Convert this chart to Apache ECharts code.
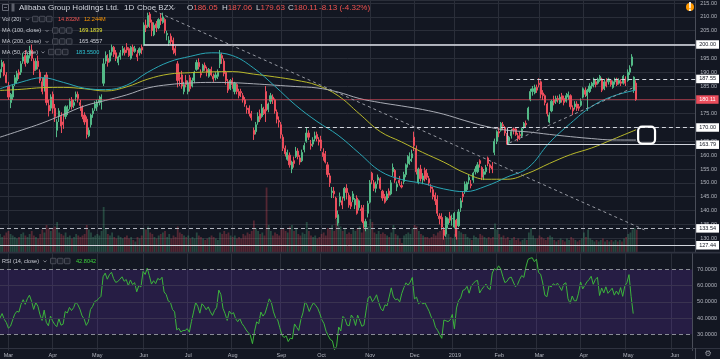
<!DOCTYPE html>
<html>
<head>
<meta charset="utf-8">
<script src="https://cdn.jsdelivr.net/npm/echarts@6.0.0/dist/echarts.min.js"></script>
<style>
html,body{margin:0;padding:0;background:#131722;overflow:hidden;}
#chart{width:720px;height:359px;}
</style>
</head>
<body>
<div id="chart"></div>
<script>
// ================= DATA =================
// closes before the visible range (only used to warm up RSI 14)
const warmupCloses = [204.3, 199.5, 191, 183, 185.5, 181, 171.5, 174.5, 177, 180.5, 184.5, 186.5, 184, 187.5, 189, 188];

// daily candles [open, close, low, high]
const feb18 = [[188,191,187,192],[192,193.5,190,194.5],[193,189,188.5,194],[189,186.2,186,190]];
const mar18 = [[185,181,180,186.5],[179,182,177,182.5],[181,185,180,185.5],[186,188,185,189],[187,189.5,186,190.5],[190,189,187.5,191],[190,193,189,194],[194,195.5,193,197],[196,193,192,198],[193.5,196,193,197],[196,198,195,199.5],[198,195,194,200],[194,190.5,189,195],[191,194,190.5,195],[194,192,191,196],[190,187,186,191],[186.5,183,182,188],[185,188,183,189],[189,179,178,190],[178,176,174,180],[177,181,176,182]];
const apr18 = [[182,177,175,183],[177,174,172,178.5],[169,172,166.5,173],[174,176,172,177],[174,170.5,168,175.5],[172,171,169.5,175],[174,177.5,173,178],[176,176.5,174.5,178],[177.5,179.5,176.5,180.5],[180,177.5,176.5,181],[178,179,177,180],[181,182,179.5,183],[182,180.5,179,183],[179,178,176,180],[177.5,174,173,178],[174.5,172,171,175.5],[173,167.5,166,174],[167,169,166.5,170],[171,174.5,170,175],[175,176,173.5,177],[177,178.5,176,179.5]];
const may18 = [[177.5,179,176,180],[179,180,178,181.5],[179,181,176.5,182],[186,193,185,195],[194,196,193,197.5],[195,193.5,192,196.5],[194,197,193.5,198],[197.5,199,196,200],[199,196.5,195.5,199.5],[197,195,194,198],[193.5,195.5,192.5,196],[195.5,197,194.5,198],[197,198.5,196,199.5],[198,197,196,199],[199,198,197,200.5],[198.5,196,195.5,199],[195,199,194.5,199.5],[199,197.5,196,200],[197.5,198.5,197,199.5],[196.5,195.5,194,198],[197,198.5,196,199],[199,198,196.5,200]];
const jun18 = [[200,207,199.5,208],[207,206,204.5,209],[206.5,210.5,206,211.5],[211,208,206,211.7],[208,205,203,209],[203.5,207,203,208],[207.5,206,204.5,208.5],[206,209,205.5,209.5],[209.5,208.5,207,211],[208,210,207.5,211.5],[209,205,204,209.5],[203.5,204,201.5,205],[200.5,201.5,199.5,203],[203,201,200,204],[201.5,198,196.5,202.5],[198.5,197,196,199.5],[193,187,184.5,194],[188,187.5,185,190],[189,185,184,190.5],[183,185.5,182,186.5],[187,185.5,184.5,189]];
const jul18 = [[183,186,182,187],[188,184,183,189],[185,187,184.5,188],[187,190,186,190.5],[191,193.5,190.5,194.5],[193.5,192,191,195],[189.5,189,188,191],[190.5,192.5,190,193],[192.5,191.5,190.5,193.5],[191,190,188.5,192],[188.5,191,188,191.5],[191,189,188.5,192],[188.5,187.5,186.5,189.5],[188,189,187,190],[188.5,190,187.5,191],[193,196.5,191.5,198],[196,195,193,197],[194,189.5,188.5,195],[190,187,185.5,190.5],[186.5,183.5,182.5,187.5],[184,187,183.5,187.5]];
const aug18 = [[187,185.5,184,188],[183,186,182,186.5],[185.5,183,182,186],[183,181.5,180.5,184],[183,182.5,181,184],[181.5,180,179,182.5],[180,178.5,177.5,181],[177,176.5,175,178],[177,175,174,178],[175,173.5,172.5,176],[169,167.5,165.5,170],[168.5,171,167.5,172],[172,174,171,175.5],[175,173,172,176.5],[174,177,173.5,178.5],[176.5,175,174.5,177.5],[183,176,172,185],[176.5,178.5,175.5,179],[179.5,181.5,178.5,182.5],[181,180,178.5,182],[180,176,175,180.5],[175.5,173,171.5,176.5],[172.5,172,170,174]];
const sep18 = [[171,167.5,166,172],[166.5,162.5,161.5,167.5],[162.5,160.5,159.5,163.5],[158.5,161,158,162],[160,156.5,155.5,161],[155,157.5,153.5,158],[158,157,155.5,159.5],[159.5,161.5,159,163],[161.5,159.5,158.5,162.5],[159,157.5,156.5,160],[158,161,157.5,162],[162,163.5,161,164.5],[165,168,164.5,170],[168,166.5,165.5,169],[164,163.5,162,165.5],[164,165.5,163,166.5],[166,167,165,168.5],[167.5,166,165,168.5],[165.5,164.8,163.5,166.5]];
const oct18 = [[165.5,162.5,161.5,167],[161,159.5,158,162.5],[160.5,157.5,157,161.5],[156.5,153,152,157.5],[152.5,150,148.5,153.5],[146.5,147,144.5,148.5],[147,146,144.5,148.5],[144.5,137.5,137,145],[135.5,138.5,134.5,140],[143,145,141.5,146.5],[143.5,142,140.5,145],[144.5,148,143.5,148.5],[148,146.5,144,149.5],[145.5,142,141,146.5],[143,141.5,140.5,145],[144,146,143,147],[142,144,140.5,144.5],[144.5,139,138.5,145.5],[141,143.5,140,144],[140.5,140,136,142],[141,135.5,133.5,142],[134,136,132.5,137],[139,142.5,137.5,143.5]];
const nov18 = [[143,150,142.5,151],[153.5,151,149.5,154],[150,148,147,151],[148,149.5,146.5,150.5],[151,152,149.5,153],[151.5,148,147.5,152],[147,144.5,143.5,147.5],[145,143,142.5,146],[144,146,143.5,147],[147,145.5,144.5,148],[146,150,145.5,151],[154,155.5,152.5,157],[154.5,151,150,155],[148.5,149.5,147,150.5],[151,150,149,152.5],[149,148.5,148,150.5],[150.5,153,149.5,154],[153,156.5,152,157],[157,159.5,155.5,160],[158,158.5,156.5,161],[159,160.5,157.5,162]];
const dec18 = [[166.5,163.5,161.5,168.5],[162.5,154,153,163.5],[150,155,149.5,155.5],[155,151.5,150.5,156.5],[151,152.5,149.5,153.5],[154.5,151.5,150.5,155.5],[153.5,152,151,155],[151.5,150,149,152.5],[148.5,148,146.5,149.5],[147.5,145,144,148.5],[145.5,143.5,142,146.5],[144,139,138,145.5],[138,137,135,139],[137.5,134,133,139],[133,131,129.5,134],[131.5,137.5,130.5,138],[135,137,133.5,137.5],[138,136.5,135.5,139.5],[137,137.1,134.5,138.5]];
const jan19 = [[134,139,133.5,139.5],[136.5,130.6,129.5,137],[134.5,139.5,134,140.5],[141,143.5,139.5,144.5],[146,145,143,147],[147,149.5,146,150.5],[147.5,150,147,150.5],[151,152,149.5,153],[149.5,149,148,151],[151,153.5,150,154],[154,155,153,156],[154,156.5,153.5,157.5],[158,157,155.5,158.5],[155.5,152,151,156],[153,154,151,155],[154,155.5,153,156.5],[159,157,156,159.5],[156.5,155.5,153.5,157],[156,155,153.5,157.5],[161,165,160,166],[165,168.5,164,169]];
const feb19 = [[168.5,168,166.5,170],[169,171.5,168.5,172],[171,170.5,169,172],[170,168,167,170.5],[167.5,165.8,163.8,168],[165,166.5,164,167],[167,168.5,166,169.5],[169.5,169,167.5,170],[169.5,167.5,167,170],[167,166,165,168],[167.5,167,165.5,168.5],[167,169.5,166.5,170],[170,171.5,169.5,172],[171.5,171,170,172.5],[173,177,172.5,177.5],[180,183,179.5,184],[183,184,181.5,185],[182.5,184.5,182,185.5],[184.5,183.5,182.5,185.5]];
const mar19 = [[186,185.5,184.5,187.8],[186.5,182,180.5,187],[182.5,181.5,180,183.5],[181.5,179,178,182],[178.5,175,174,179],[172,174.5,171.5,175.5],[176,179.5,175.5,180],[180,179,178,181.5],[179.5,180.5,178.5,181.5],[180.5,180,179,181.5],[179,181,178.5,182],[181.5,180,179,182.5],[180.5,179,178,181.5],[179.5,181.5,179,182.5],[181,182,180,183],[181.5,177.5,176.5,182],[177,176,174.5,178],[177.5,178.5,176.5,179.5],[178.5,177,176,179.5],[177.5,177,176,178.5],[178,179.5,177.5,180.5]];
const apr19 = [[181,184,180.5,184.5],[183.5,182,181,184.5],[181.5,183.5,176,184],[183,185,182.5,186],[185,186,184,186.5],[185.5,187.5,184.5,188],[186.5,185.5,184.5,187.5],[186,187.5,185.5,188],[187,188.5,186.5,189],[187.5,183.5,182.8,188],[184,186.5,183.5,187.5],[186.5,185,184.5,187.8],[186.5,187.5,185.5,188],[187,185.5,184.8,187.5],[184.5,186.5,184,187],[186.5,187.5,185.5,188],[187.5,185.5,185,188],[186,187,185.5,187.8],[186.5,186,185,187.5],[186,188.5,185.5,189],[187.5,186,185,188.5]];
const may19 = [[187,190,186.5,191],[190,191.5,189,192.5],[192.5,195.5,192,196.5],[183.5,188.24,182.5,188.5],[186.05,180.11,179.63,187.06]];

// daily volume, millions
const volFeb18 = [12,10,11,13];
const volMar18 = [14,12,11,10,9,10,12,13,11,10,12,14,11,10,9,12,15,13,18,16,14];
const volApr18 = [16,17,20,13,12,11,13,10,11,9,10,12,11,10,11,12,18,15,13,10,11];
const volMay18 = [12,11,14,30,16,12,11,13,10,9,11,10,9,10,11,9,10,8,7,10,9,11];
const volJun18 = [16,15,17,13,12,10,9,11,12,13,14,10,12,9,11,10,17,13,12,11,10];
const volJul18 = [11,9,10,9,13,11,10,9,8,9,10,11,10,9,8,13,12,14,12,13,11];
const volAug18 = [10,11,9,10,9,12,11,13,12,14,21,16,14,12,13,11,43,18,14,11,13,12,11];
const volSep18 = [15,16,14,13,17,18,14,16,12,11,13,12,20,14,11,10,11,9,10];
const volOct18 = [12,13,11,16,15,18,14,22,24,17,14,16,12,13,12,15,14,16,17,13,18,19,17];
const volNov18 = [22,20,13,12,14,12,13,12,11,10,13,18,12,11,9,6,11,12,13,12,16];
const volDec18 = [18,17,14,12,11,10,10,9,10,12,11,13,14,15,9,14,12,10,9];
const volJan19 = [12,16,14,13,12,12,10,9,8,11,10,9,12,11,10,9,10,9,10,19,15];
const volFeb19 = [12,10,11,9,10,8,9,10,8,9,7,8,9,8,13,16,11,9,9];
const volMar19 = [11,10,9,8,10,11,10,8,7,8,9,8,7,9,8,10,9,8,7,8,9];
const volApr19 = [13,10,15,9,8,7,8,7,8,9,7,8,7,8,7,8,7,8,7,9,10];
const volMay19 = [12,13,15,16,14.832];

// moving averages (date, value)
const ma50Pts = [['2018-02-23',184],['2018-03-09',186.4],['2018-03-23',188],['2018-04-09',186.3],['2018-04-23',184.2],['2018-05-07',183.7],['2018-05-21',185.3],['2018-06-05',190],['2018-06-19',193.7],['2018-07-03',195.7],['2018-07-18',197],['2018-08-01',196],['2018-08-15',191.5],['2018-08-29',185],['2018-09-13',178],['2018-09-27',172.2],['2018-10-11',167.2],['2018-10-25',160.7],['2018-11-08',154.2],['2018-11-23',151.2],['2018-12-10',149.8],['2018-12-24',147.8],['2019-01-09',146.8],['2019-01-24',148.8],['2019-02-07',152.1],['2019-02-22',155.5],['2019-03-08',164.5],['2019-03-22',171.5],['2019-04-05',177.6],['2019-04-22',181.3],['2019-05-07',183.55]];
const ma100Pts = [['2018-02-23',183.4],['2018-03-09',183.8],['2018-03-23',184.4],['2018-04-09',184.5],['2018-04-23',184],['2018-05-07',183.2],['2018-05-21',184.7],['2018-06-05',187.5],['2018-06-19',189.3],['2018-07-03',189.8],['2018-07-18',190.1],['2018-08-01',190.2],['2018-08-15',189.3],['2018-08-29',188.3],['2018-09-13',187.1],['2018-09-27',185.3],['2018-10-11',181.5],['2018-10-25',175],['2018-11-08',168.5],['2018-11-23',164.8],['2018-12-10',161],['2018-12-24',157.5],['2019-01-09',153.6],['2019-01-24',151.3],['2019-02-07',151.3],['2019-02-22',153.5],['2019-03-08',157],['2019-03-22',160.2],['2019-04-05',162.6],['2019-04-22',165.7],['2019-05-07',169.18]];
const ma200Pts = [['2018-02-23',166.5],['2018-03-09',169],['2018-03-23',171.6],['2018-04-09',174.7],['2018-04-23',177.8],['2018-05-07',179.8],['2018-05-21',181.8],['2018-06-05',184.3],['2018-06-19',185.5],['2018-07-03',186.1],['2018-07-18',186.3],['2018-08-01',186.2],['2018-08-15',185.8],['2018-08-29',185.3],['2018-09-13',184.8],['2018-09-27',184.3],['2018-10-11',182.8],['2018-10-25',180.5],['2018-11-08',179],['2018-11-23',177.8],['2018-12-10',176.5],['2018-12-24',174.8],['2019-01-09',172.5],['2019-01-24',170.4],['2019-02-07',169],['2019-02-22',168.4],['2019-03-08',167.5],['2019-03-22',166.7],['2019-04-05',166],['2019-04-22',165.5],['2019-05-07',165.46]];

// legend readouts as shown in the picture
const legendVol = ['14.832M', '12.244M'];
const legendMA = ['169.1839', '165.4557', '183.5500'];
const legendRSI = '42.8042';

// horizontal levels drawn on the chart: price, start date
const levelPrices = [200, 187.55, 170, 163.79, 133.54, 127.44];
const levelStarts = ['2018-06-01','2019-02-08','2018-09-14','2019-02-07','2018-02-23','2018-02-23'];
const lastClose = 180.11;
// trend lines [date, price] pairs
const downTrend = [['2018-06-08',212.2],['2019-05-13',133]];
const upTrend = [['2019-02-08',164.4],['2019-05-06',184.5]];

const monthNames = ['Jan','Feb','Mar','Apr','May','Jun','Jul','Aug','Sep','Oct','Nov','Dec'];
const holidays = ['2018-03-30','2018-05-28','2018-07-04','2018-09-03','2018-11-22','2018-12-05','2018-12-25','2019-01-01','2019-01-21','2019-02-18','2019-04-19','2019-05-27'];

// ================= BUILD =================
function tradingDays(start, n){
  const out=[]; const d=new Date(start+'T00:00:00Z');
  while(out.length<n){
    const wd=d.getUTCDay(); const s=d.toISOString().slice(0,10);
    if(wd!==0&&wd!==6&&holidays.indexOf(s)<0) out.push(s);
    d.setUTCDate(d.getUTCDate()+1);
  }
  return out;
}
const N = 330;
const dates = tradingDays('2018-02-23', N);
const idx = d => dates.indexOf(d);
const candles = [].concat(feb18,mar18,apr18,may18,jun18,jul18,aug18,sep18,oct18,nov18,dec18,jan19,feb19,mar19,apr19,may19);
const volumes = [].concat(volFeb18,volMar18,volApr18,volMay18,volJun18,volJul18,volAug18,volSep18,volOct18,volNov18,volDec18,volJan19,volFeb19,volMar19,volApr19,volMay19);
const closes = candles.map(c=>c[1]);
const monthStart = dates.map((d,i)=> i>0 && d.slice(0,7)!==dates[i-1].slice(0,7));

const UP='#53b987', DOWN='#eb4d5c';
const volData = volumes.map((v,i)=>({value:v, itemStyle:{color: candles[i][1]>=candles[i][0] ? 'rgba(83,185,135,0.3)' : 'rgba(235,77,92,0.3)'}}));

function sparse(pts){ const a=new Array(candles.length).fill(null); pts.forEach(p=>{const i=idx(p[0]); if(i>=0) a[i]=p[1];}); return a; }
function rsiCalc(s, n){
  const out=new Array(s.length).fill(null); let g=0,l=0;
  for(let i=1;i<=n;i++){const d=s[i]-s[i-1]; if(d>0) g+=d; else l-=d;}
  g/=n; l/=n; out[n]=100-100/(1+g/l);
  for(let i=n+1;i<s.length;i++){const d=s[i]-s[i-1]; g=(g*(n-1)+Math.max(d,0))/n; l=(l*(n-1)+Math.max(-d,0))/n; out[i]= l===0?100:100-100/(1+g/l);}
  return out;
}
const rsi = rsiCalc(warmupCloses.concat(closes),14).slice(warmupCloses.length).map(v=>v==null?null:+v.toFixed(4));

const FONT='"Liberation Sans", Arial, sans-serif';
const AXC='#b2b5be';
const lastIdx=N-1;

function priceLabel(text, bg, fg){
  return {show:true, position:'end', distance:1, formatter:text, backgroundColor:bg, color:fg, fontSize:5.5, fontFamily:FONT, padding:[1.5,3,1,3], borderRadius:0};
}
const levelStyles = [
  {color:'#e0e3eb', width:1.5, type:'solid'},
  {color:'#d1d4dc', width:1, type:[4,3]},
  {color:'#d1d4dc', width:1, type:[4,3]},
  {color:'#d1d4dc', width:1, type:'solid'},
  {color:'#b2b5be', width:1, type:[4,3]},
  {color:'#d1d4dc', width:1, type:'solid'}
];

const markLines = levelPrices.map((p,k)=>[
  {coord:[idx(levelStarts[k]), p], lineStyle:levelStyles[k], label:priceLabel(p.toFixed(2),'#ffffff','#131722')},
  {coord:[lastIdx, p]}
]);
markLines.push({yAxis:lastClose, lineStyle:{color:'rgba(235,77,92,0.55)', width:1, type:'solid'}, label:priceLabel(lastClose.toFixed(2),'#eb4d5c','#ffffff')});
markLines.push([{coord:[idx(downTrend[0][0]),downTrend[0][1]], lineStyle:{color:'#9598a1',width:1,type:[3,3]}, label:{show:false}},{coord:[idx(downTrend[1][0]),downTrend[1][1]]}]);
markLines.push([{coord:[idx(upTrend[0][0]),upTrend[0][1]], lineStyle:{color:'#9598a1',width:1,type:[3,3]}, label:{show:false}},{coord:[idx(upTrend[1][0]),upTrend[1][1]]}]);
markLines.push([{coord:[idx('2019-02-07'),163.79], lineStyle:{color:'#c0c3cc',width:1,type:'solid'}, label:{show:false}},{coord:[idx('2019-02-07'),170]}]);

const catAxis = (gi, extra) => Object.assign({type:'category', gridIndex:gi, data:dates, boundaryGap:false,
  axisLine:{show:false}, axisTick:{show:false}, axisLabel:{show:false}, splitLine:{show:false}}, extra||{});
const vSplit = {show:true, interval:(i)=>monthStart[i], lineStyle:{color:'#2a2e39', width:1}};

const chart = echarts.init(document.getElementById('chart'), null, {renderer:'canvas'});
chart.setOption({
  animation:false,
  backgroundColor:'#131722',
  grid:[
    {left:0, right:24, top:0, height:252},
    {left:0, right:24, top:147, height:105},
    {left:0, right:24, top:253.3, height:97.2},
    {left:0, right:24, top:348, height:1}
  ],
  xAxis:[
    catAxis(0,{splitLine:vSplit}),
    catAxis(1),
    catAxis(2,{splitLine:vSplit}),
    catAxis(3,{axisLabel:{show:true, interval:(i)=>monthStart[i], margin:3, color:AXC, fontSize:5.5, fontFamily:FONT,
      formatter:(v)=>{const m=+v.slice(5,7); return m===1 ? v.slice(0,4) : monthNames[m-1];}}})
  ],
  yAxis:[
    {type:'value', gridIndex:0, position:'right', min:125, max:215.9, interval:5,
     axisLine:{show:true, lineStyle:{color:'#4a4e59'}}, axisTick:{show:false},
     axisLabel:{margin:5, color:AXC, fontSize:5.5, fontFamily:FONT, formatter:(v)=> v<=125 ? '' : v.toFixed(2)},
     splitLine:{show:true, lineStyle:{color:'#2a2e39'}}},
    {type:'value', gridIndex:1, min:0, max:70, show:false},
    {type:'value', gridIndex:2, position:'right', min:20, max:80, interval:10,
     axisLine:{show:true, lineStyle:{color:'#4a4e59'}}, axisTick:{show:false},
     axisLabel:{margin:5, color:AXC, fontSize:5.5, fontFamily:FONT, formatter:(v)=> (v<=20||v>=80) ? '' : v.toFixed(4)},
     splitLine:{show:false}},
    {type:'value', gridIndex:3, show:false}
  ],
  series:[
    {type:'candlestick', name:'BABA', xAxisIndex:0, yAxisIndex:0, data:candles, barWidth:1.6, z:3,
     itemStyle:{color:UP, color0:DOWN, borderColor:UP, borderColor0:DOWN, borderWidth:1},
     markLine:{symbol:['none','none'], silent:true, animation:false, data:markLines}},
    {type:'bar', name:'Vol', xAxisIndex:1, yAxisIndex:1, data:volData, barWidth:1.8, z:1},
    {type:'line', name:'MA100', xAxisIndex:0, yAxisIndex:0, data:sparse(ma100Pts), connectNulls:true, smooth:0.4, showSymbol:false, lineStyle:{color:'#b9b92c', width:1}, z:4},
    {type:'line', name:'MA200', xAxisIndex:0, yAxisIndex:0, data:sparse(ma200Pts), connectNulls:true, smooth:0.4, showSymbol:false, lineStyle:{color:'#a9acb5', width:1}, z:4},
    {type:'line', name:'MA50', xAxisIndex:0, yAxisIndex:0, data:sparse(ma50Pts), connectNulls:true, smooth:0.4, showSymbol:false, lineStyle:{color:'#2aa6b5', width:1}, z:4},
    {type:'line', name:'RSI', xAxisIndex:2, yAxisIndex:2, data:rsi, showSymbol:false, lineStyle:{color:'#3cb43c', width:1}, z:4,
     markArea:{silent:true, itemStyle:{color:'rgba(130,60,230,0.18)'}, data:[[{yAxis:30},{yAxis:70}]]},
     markLine:{symbol:['none','none'], silent:true, label:{show:false}, data:[
       {yAxis:70, lineStyle:{color:'#8a8d96', type:[4,3], width:1}},
       {yAxis:30, lineStyle:{color:'#8a8d96', type:[4,3], width:1}},
       {yAxis:60, lineStyle:{color:'#3a3350', type:'solid', width:1}},
       {yAxis:50, lineStyle:{color:'#3a3350', type:'solid', width:1}},
       {yAxis:40, lineStyle:{color:'#3a3350', type:'solid', width:1}}
     ]}}
  ]
});

// ================= OVERLAY TEXT / SHAPES =================
function T(x,y,text,fill,size,extra){
  return {type:'text', x:x, y:y, z:100, silent:true, style:Object.assign({text:text, fill:fill, font:size+'px '+FONT, align:'left', verticalAlign:'middle'}, extra||{})};
}
function box(x,y){ return {type:'rect', z:100, silent:true, shape:{x:x+0.5,y:y-2.75,width:5.5,height:5.5,r:0.8}, style:{fill:'#1e222d',stroke:'#5d606b',lineWidth:0.7}}; }
function chev(x,y){ return {type:'polyline', z:100, silent:true, shape:{points:[[x,y-0.8],[x+1.5,y+0.8],[x+3,y-0.8]]}, style:{stroke:'#9598a1',lineWidth:0.8,fill:null}}; }
function icons(x,y){ return [box(x,y),box(x+7,y),box(x+14,y)]; }
function rich(x,y,label,val,valColor,size){
  return {type:'text', x:x, y:y, z:100, silent:true, style:{text:'{a|'+label+'}{b|'+val+'}', font:size+'px '+FONT, verticalAlign:'middle',
    rich:{a:{fill:'#d1d4dc', font:size+'px '+FONT}, b:{fill:valColor, font:size+'px '+FONT}}}};
}
const RED='#ef5350';
const last = candles[candles.length-1];
const prev = candles[candles.length-2][1];
const chg = last[1]-prev;

const p1 = chart.convertToPixel({seriesIndex:0}, [idx('2019-05-07')+1, 170.3]);
const p2 = chart.convertToPixel({seriesIndex:0}, [idx('2019-05-07')+8.5, 164.2]);

const g = [
  {type:'line', z:90, silent:true, shape:{x1:0,y1:252.6,x2:720,y2:252.6}, style:{stroke:'#2f3340', lineWidth:1.6}},
  {type:'line', z:90, silent:true, shape:{x1:0,y1:348.5,x2:720,y2:348.5}, style:{stroke:'#2f3340', lineWidth:1}},
  {type:'line', z:90, silent:true, shape:{x1:695.5,y1:348,x2:695.5,y2:359}, style:{stroke:'#4a4e59', lineWidth:1}},
  // title row
  {type:'rect', z:100, silent:true, shape:{x:2.5,y:4.5,width:6,height:6}, style:{fill:'none',stroke:'#787b86',lineWidth:0.8}},
  {type:'line', z:100, silent:true, shape:{x1:4,y1:7.5,x2:7,y2:7.5}, style:{stroke:'#787b86',lineWidth:0.8}},
  {type:'rect', z:100, silent:true, shape:{x:11.5,y:3.5,width:3,height:8}, style:{fill:'#5d606b'}},
  T(19,8,'Alibaba Group Holdings Ltd.','#d1d4dc',8),
  T(124,8,'1D','#d1d4dc',8),
  T(137,8,'Cboe BZX','#d1d4dc',8),
  chev(172,8.5),
  rich(187,8,'O',last[0].toFixed(2),RED,8),
  rich(222,8,'H',last[3].toFixed(2),RED,8),
  rich(256,8,'L',last[2].toFixed(2),RED,8),
  rich(288,8,'C',last[1].toFixed(2),RED,8),
  T(319,8,chg.toFixed(2)+' ('+(chg/prev*100).toFixed(2)+'%)',RED,8),
  // indicator rows
  T(2,19,'Vol (20)','#c8cbd3',5.6), chev(26,19.3), ...icons(32,19),
  T(58,19,legendVol[0],RED,5.6), T(84,19,legendVol[1],'#ff9800',5.6),
  T(2,30.5,'MA (100, close)','#c8cbd3',5.6), chev(45.5,30.8), ...icons(52,30.5),
  T(79,30.5,legendMA[0],'#e6e632',5.6),
  T(2,41.5,'MA (200, close)','#c8cbd3',5.6), chev(45.5,41.8), ...icons(52,41.5),
  T(79,41.5,legendMA[1],'#d1d4dc',5.6),
  T(2,52,'MA (50, close)','#c8cbd3',5.6), chev(41.5,52.3), ...icons(48,52),
  T(76,52,legendMA[2],'#2ec4d4',5.6),
  T(2,261,'RSI (14, close)','#c8cbd3',5.6), chev(43.5,261.3), ...icons(50,261),
  T(76,261,legendRSI,'#3cd33c',5.6),
  // alert + gear
  {type:'circle', z:100, silent:true, shape:{cx:690,cy:7,r:4}, style:{fill:'#ff9800'}},
  T(690,7.3,'!','#ffffff',6,{align:'center', fontWeight:'bold'}),
  T(708,354,'\u2699','#9598a1',8,{align:'center', font:'8px "DejaVu Sans"'}),
  // rounded box drawing
  {type:'rect', z:100, silent:true, shape:{x:p1[0], y:p1[1], width:p2[0]-p1[0], height:p2[1]-p1[1], r:4}, style:{fill:'none', stroke:'#ffffff', lineWidth:2.2}}
];
chart.setOption({graphic:g});
</script>
</body>
</html>
